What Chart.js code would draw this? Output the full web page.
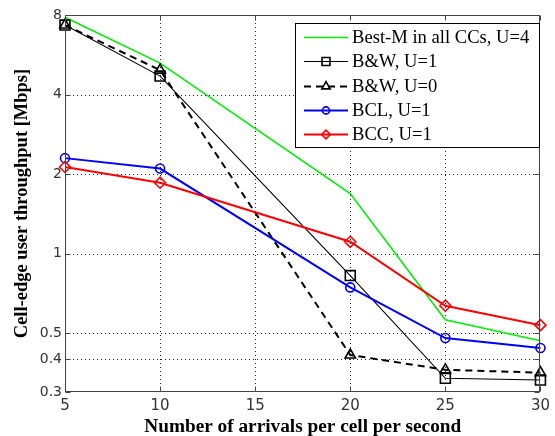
<!DOCTYPE html>
<html><head><meta charset="utf-8">
<script src="https://cdn.jsdelivr.net/npm/chart.js@4/dist/chart.umd.min.js"></script>
<style>html,body{margin:0;padding:0;background:#fff;overflow:hidden}#wrap{width:555px;height:436px}</style>
</head><body><div id="wrap"><canvas id="c" width="555" height="436"></canvas></div>
<script>
// ---- data ----
const arrivals = [5, 10, 20, 25, 30];
const bestM = [7.85, 5.26, 1.69, 0.563, 0.469];
const bw1 = [7.33, 4.70, 0.827, 0.338, 0.333];
const bw0 = [7.33, 4.95, 0.414, 0.364, 0.355];
const bcl = [2.30, 2.10, 0.746, 0.480, 0.440];
const bcc = [2.13, 1.857, 1.11, 0.636, 0.537];
const seriesLabels = ['Best-M in all CCs, U=4', 'B&W, U=1', 'B&W, U=0', 'BCL, U=1', 'BCC, U=1'];
const xTicks = [5, 10, 15, 20, 25, 30];
const yTicks = [0.3, 0.4, 0.5, 1, 2, 4, 8];
const xTitle = 'Number of arrivals per cell per second';
const yTitle = 'Cell-edge user throughput [Mbps]';

const pts = arr => arrivals.map((x, i) => ({x: x, y: arr[i]}));

const datasets = [
  {label: seriesLabels[0], data: pts(bestM), borderColor: '#00ee00', borderWidth: 1.6, pointRadius: 0, order: 5},
  {label: seriesLabels[1], data: pts(bw1), borderColor: '#000', borderWidth: 1.1, pointStyle: 'rect', pointRadius: 7, pointBorderWidth: 1.6, order: 4},
  {label: seriesLabels[2], data: pts(bw0), borderColor: '#000', borderWidth: 2, borderDash: [7, 5], pointStyle: 'triangle', pointRadius: 6, pointBorderWidth: 1.6, order: 3},
  {label: seriesLabels[3], data: pts(bcl), borderColor: '#0000ff', borderWidth: 2, pointStyle: 'circle', pointRadius: 4.5, pointBorderWidth: 1.6, order: 2},
  {label: seriesLabels[4], data: pts(bcc), borderColor: '#ff0000', borderWidth: 2, pointStyle: 'rectRot', pointRadius: 5.5, pointBorderWidth: 1.6, order: 1}
];
datasets.forEach(d => {
  d.backgroundColor = 'rgba(0,0,0,0)';
  d.pointBackgroundColor = 'rgba(0,0,0,0)';
  d.pointBorderColor = d.borderColor;
  d.tension = 0;
  d.clip = false;
  d.fill = false;
});

const plot = {
  id: 'matlabFrame',
  beforeDatasetsDraw(chart) {
    const {ctx, chartArea: a, scales: {x, y}} = chart;
    ctx.save();
    ctx.strokeStyle = '#222';
    ctx.lineWidth = 1;
    ctx.setLineDash([1, 3]);
    xTicks.forEach(v => {
      if (v > x.min && v < x.max) {
        const px = Math.round(x.getPixelForValue(v)) + 0.5;
        ctx.beginPath(); ctx.moveTo(px, a.top); ctx.lineTo(px, a.bottom); ctx.stroke();
      }
    });
    yTicks.forEach(v => {
      if (v > y.min && v < y.max) {
        const py = Math.round(y.getPixelForValue(v)) + 0.5;
        ctx.beginPath(); ctx.moveTo(a.left, py); ctx.lineTo(a.right, py); ctx.stroke();
      }
    });
    ctx.restore();
  },
  afterDraw(chart) {
    const {ctx, chartArea: a, scales: {x, y}} = chart;
    ctx.save();
    ctx.strokeStyle = '#444';
    ctx.lineWidth = 1;
    ctx.setLineDash([]);
    const L = Math.round(a.left) + 0.5, R = Math.round(a.right) - 0.5, T = Math.round(a.top) + 0.5, B = Math.round(a.bottom) - 0.5;
    ctx.strokeRect(L, T, R - L, B - T);
    const tl = 5;
    ctx.beginPath();
    xTicks.forEach(v => {
      const px = Math.round(x.getPixelForValue(v)) + 0.5;
      ctx.moveTo(px, B); ctx.lineTo(px, B - tl);
      ctx.moveTo(px, T); ctx.lineTo(px, T + tl);
    });
    yTicks.forEach(v => {
      const py = Math.round(y.getPixelForValue(v)) + 0.5;
      ctx.moveTo(L, py); ctx.lineTo(L + tl, py);
      ctx.moveTo(R, py); ctx.lineTo(R - tl, py);
    });
    ctx.stroke();

    // legend
    const bx = 295.5, by = 23.5, bw = 244, bh = 124;
    ctx.fillStyle = '#fff';
    ctx.fillRect(bx, by, bw, bh);
    ctx.strokeStyle = '#000';
    ctx.strokeRect(bx, by, bw, bh);
    const rowY0 = 37, rowH = 24.3, lx0 = 304, lx1 = 348, tx = 352;
    ctx.font = '18.6px "Liberation Serif", "Times New Roman", serif';
    ctx.textBaseline = 'middle';
    ctx.textAlign = 'left';
    chart.data.datasets.forEach((d, i) => {
      const yy = Math.round(rowY0 + i * rowH) + 0.5;
      ctx.save();
      ctx.strokeStyle = d.borderColor;
      ctx.lineWidth = d.borderWidth;
      ctx.setLineDash(d.borderDash || []);
      ctx.beginPath(); ctx.moveTo(lx0, yy); ctx.lineTo(lx1, yy); ctx.stroke();
      ctx.setLineDash([]);
      if (d.pointRadius > 0) {
        ctx.fillStyle = 'rgba(0,0,0,0)';
        ctx.strokeStyle = d.borderColor;
        ctx.lineWidth = d.pointBorderWidth;
        Chart.helpers.drawPoint(ctx, {pointStyle: d.pointStyle, radius: d.pointRadius * 0.8, rotation: 0, borderWidth: d.pointBorderWidth}, (lx0 + lx1) / 2, yy);
      }
      ctx.restore();
      ctx.fillStyle = '#000';
      ctx.fillText(d.label, tx, yy + 1);
    });
    ctx.restore();
  }
};

new Chart(document.getElementById('c'), {
  type: 'line',
  data: {datasets: datasets},
  plugins: [plot],
  options: {
    responsive: false,
    devicePixelRatio: 1,
    animation: false,
    events: [],
    layout: {padding: {top: 15, right: 10, left: 0, bottom: 0}},
    plugins: {legend: {display: false}, tooltip: {enabled: false}, title: {display: false}},
    scales: {
      x: {
        type: 'linear', min: 5, max: 30,
        afterBuildTicks: s => { s.ticks = xTicks.map(v => ({value: v})); },
        afterFit: s => { s.height = 44; },
        grid: {display: false, drawTicks: false},
        border: {display: false},
        ticks: {padding: 5, color: '#333', font: {family: '"DejaVu Sans", sans-serif', size: 15}, callback: v => String(v), maxRotation: 0, autoSkip: false},
        title: {display: true, text: xTitle, color: '#000', font: {family: '"Liberation Serif", "Times New Roman", serif', size: 19.3, weight: 'bold'}, padding: {top: 0, bottom: -3}}
      },
      y: {
        type: 'logarithmic', min: 0.3, max: 8,
        afterBuildTicks: s => { s.ticks = yTicks.map(v => ({value: v})); },
        afterFit: s => { s.width = 65; },
        grid: {display: false, drawTicks: false},
        border: {display: false},
        ticks: {padding: 3, color: '#333', font: {family: '"DejaVu Sans", sans-serif', size: 14}, callback: v => String(v), autoSkip: false},
        title: {display: true, text: yTitle, color: '#000', font: {family: '"Liberation Serif", "Times New Roman", serif', size: 18.5, weight: 'bold'}, padding: {top: 11, bottom: 0}}
      }
    }
  }
});
</script>
</body></html>
